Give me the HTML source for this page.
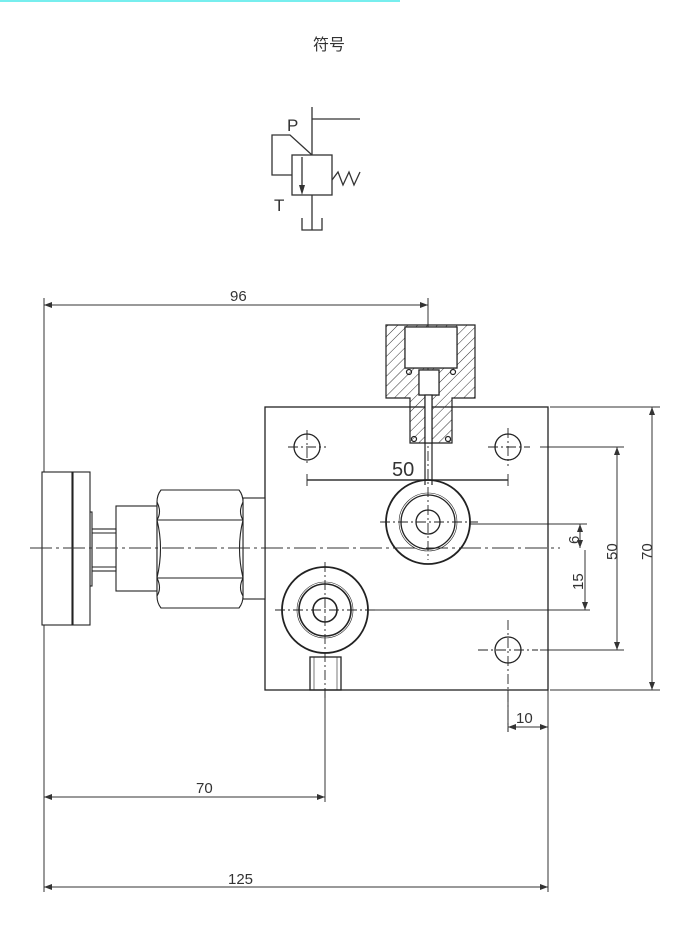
<!DOCTYPE html>
<html><head><meta charset="utf-8"><style>
html,body{margin:0;padding:0;background:#fff;}
svg{display:block}
text{font-family:"Liberation Sans","Noto Sans CJK SC",sans-serif;fill:#333}
</style></head><body>
<svg width="680" height="931" viewBox="0 0 680 931" xmlns="http://www.w3.org/2000/svg">
<defs>
<pattern id="h" width="7" height="7" patternUnits="userSpaceOnUse" patternTransform="rotate(45)">
<line x1="0" y1="0" x2="0" y2="7" stroke="#333" stroke-width="1"/>
</pattern>
<marker id="a" markerWidth="8" markerHeight="6" refX="8" refY="3" orient="auto-start-reverse"><path d="M0,0 L8,3 L0,6 z" fill="#333"/></marker>
</defs>
<line x1="0" y1="1" x2="400" y2="1" stroke="#7ee" stroke-width="2"/>
<text x="313" y="50" font-size="16">符号</text>
<g stroke="#333" stroke-width="1.3" fill="none">
<line x1="312" y1="107" x2="312" y2="155"/><line x1="312" y1="119" x2="360" y2="119"/>
<rect x="292" y="155" width="40" height="40"/>
<polyline points="292,175 272,175 272,135 290,135 312,155"/>
<line x1="302" y1="157" x2="302" y2="190"/>
<polyline points="332,180 338,172 343,185 349,172 354,185 360,172"/>
<line x1="312" y1="195" x2="312" y2="230"/>
<polyline points="302,218 302,230 322,230 322,218"/>
</g>
<path d="M299,185 L305,185 L302,195 z" fill="#333"/>
<text x="287" y="131" font-size="17">P</text>
<text x="274" y="211" font-size="17">T</text>

<g stroke="#333" stroke-width="1" fill="none">
<!-- extension lines -->
<line x1="44" y1="298" x2="44" y2="892"/>
<line x1="548" y1="690" x2="548" y2="892"/>
<line x1="325" y1="690" x2="325" y2="802"/>
<line x1="428" y1="298" x2="428" y2="325"/>
<line x1="44" y1="305" x2="428" y2="305" marker-start="url(#a)" marker-end="url(#a)"/>
<line x1="44" y1="797" x2="325" y2="797" marker-start="url(#a)" marker-end="url(#a)"/>
<line x1="44" y1="887" x2="548" y2="887" marker-start="url(#a)" marker-end="url(#a)"/>
<!-- right dims -->
<line x1="550" y1="407" x2="660" y2="407"/>
<line x1="550" y1="690" x2="660" y2="690"/>
<line x1="652" y1="407" x2="652" y2="690" marker-start="url(#a)" marker-end="url(#a)"/>
<line x1="540" y1="447" x2="624" y2="447"/>
<line x1="540" y1="650" x2="624" y2="650"/>
<line x1="617" y1="447" x2="617" y2="650" marker-start="url(#a)" marker-end="url(#a)"/>
<line x1="470" y1="524" x2="587" y2="524"/>
<line x1="580" y1="524" x2="580" y2="548" marker-start="url(#a)" marker-end="url(#a)"/>
<line x1="370" y1="610" x2="590" y2="610"/>
<line x1="585" y1="550" x2="585" y2="610" marker-end="url(#a)"/>
<line x1="508" y1="690" x2="508" y2="732"/>
<line x1="508" y1="727" x2="548" y2="727" marker-start="url(#a)" marker-end="url(#a)"/>
<line x1="307" y1="480" x2="508" y2="480" stroke-width="1.4"/>
<line x1="307" y1="474" x2="307" y2="486"/><line x1="508" y1="474" x2="508" y2="486"/>
<!-- center line -->
<line x1="30" y1="548" x2="560" y2="548" stroke-dasharray="22,4,3,4"/>
</g>
<text x="230" y="301" font-size="15">96</text>
<text x="196" y="793" font-size="15">70</text>
<text x="228" y="884" font-size="15">125</text>
<text x="392" y="476" font-size="20">50</text>
<text x="516" y="723" font-size="15">10</text>
<text transform="translate(579,544) rotate(-90)" font-size="15">6</text>
<text transform="translate(583,590) rotate(-90)" font-size="15">15</text>
<text transform="translate(617,560) rotate(-90)" font-size="15">50</text>
<text transform="translate(652,560) rotate(-90)" font-size="15">70</text>

<g stroke="#222" stroke-width="1.3" fill="none">
<rect x="265" y="407" width="283" height="283"/>
<circle cx="307" cy="447" r="13"/><circle cx="508" cy="447" r="13"/><circle cx="508" cy="650" r="13"/>
<circle cx="428" cy="522" r="42" stroke-width="1.8"/><circle cx="428" cy="522" r="27"/><circle cx="428" cy="522" r="29" stroke-width="0.6"/><circle cx="428" cy="522" r="12"/>
<circle cx="325" cy="610" r="43" stroke-width="1.8"/><circle cx="325" cy="610" r="26" stroke-width="1.6"/><circle cx="325" cy="610" r="28" stroke-width="0.6"/><circle cx="325" cy="610" r="12" stroke-width="1.6"/>
<rect x="310" y="657" width="31" height="33"/>
<line x1="314" y1="657" x2="314" y2="690" stroke-width="0.6"/><line x1="337" y1="657" x2="337" y2="690" stroke-width="0.6"/>
</g>
<g stroke="#222" stroke-width="0.9" fill="none" stroke-dasharray="10,3,2,3">
<line x1="288" y1="447" x2="326" y2="447"/><line x1="307" y1="430" x2="307" y2="465"/>
<line x1="488" y1="447" x2="530" y2="447"/><line x1="508" y1="428" x2="508" y2="466"/>
<line x1="478" y1="650" x2="538" y2="650"/><line x1="508" y1="620" x2="508" y2="732"/>
<line x1="275" y1="610" x2="378" y2="610"/><line x1="325" y1="562" x2="325" y2="700"/>
<line x1="380" y1="522" x2="478" y2="522"/>
<line x1="428" y1="325" x2="428" y2="560"/>
</g>
<!-- top fitting -->
<g stroke="#222" stroke-width="1.2">
<path d="M386,325 H475 V398 H452 V443 H410 V398 H386 Z M405,327 V368 H457 V327 Z M419,370 V395 H425 V443 H432 V395 H439 V370 Z" fill="url(#h)" fill-rule="evenodd"/>
<rect x="405" y="327" width="52" height="41" fill="#fff"/>
<rect x="419" y="370" width="20" height="25" fill="#fff"/>
<rect x="425" y="395" width="7" height="48" fill="#fff"/>
<line x1="425" y1="443" x2="425" y2="485" fill="none"/><line x1="432" y1="443" x2="432" y2="485" fill="none"/>
<circle cx="409" cy="372" r="2.5" fill="none"/><circle cx="453" cy="372" r="2.5" fill="none"/>
<circle cx="414" cy="439" r="2.5" fill="none"/><circle cx="448" cy="439" r="2.5" fill="none"/>
</g>
<!-- left fittings -->
<g stroke="#222" stroke-width="1.1" fill="#fff">
<rect x="243" y="498" width="22" height="101"/>
<rect x="116" y="506" width="41" height="85"/>
<rect x="92" y="529" width="24" height="42"/>
<line x1="92" y1="533" x2="116" y2="533"/><line x1="92" y1="567" x2="116" y2="567"/>
<rect x="90" y="512" width="2" height="74"/>
<rect x="42" y="472" width="30" height="153"/>
<rect x="73" y="472" width="17" height="153"/>
<path d="M161,490 H239 Q243,495 243,502 V596 Q243,603 239,608 H161 Q157,603 157,596 V502 Q157,495 161,490 Z"/>
<line x1="157" y1="520" x2="243" y2="520"/><line x1="157" y1="578" x2="243" y2="578"/>
<path d="M157,502 Q162,512 157,520 M243,502 Q238,512 243,520 M157,578 Q162,588 157,596 M243,578 Q238,588 243,596" fill="none"/>
<path d="M157,520 Q164,548 157,578 M243,520 Q236,548 243,578" fill="none"/>
</g>
<line x1="30" y1="548" x2="265" y2="548" stroke="#333" stroke-dasharray="22,4,3,4"/>
</svg>
</body></html>
